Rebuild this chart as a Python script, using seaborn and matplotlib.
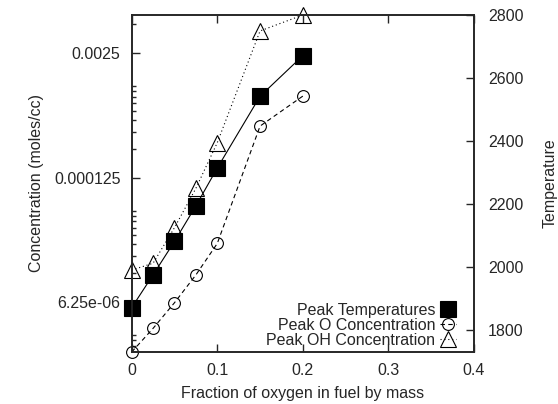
import numpy as np
import matplotlib
matplotlib.use("Agg")
import matplotlib.pyplot as plt
import matplotlib.ticker as mticker
import seaborn as sns

# data
frac = [0, 0.025, 0.05, 0.075, 0.1, 0.15, 0.2]
temp = [1871, 1975, 2081, 2194, 2314, 2542, 2671]
conc_o = [1.88e-6, 3.32e-6, 6.15e-6, 1.20e-5, 2.56e-5, 4.31e-4, 8.87e-4]
conc_oh = [1.35e-5, 1.59e-5, 3.74e-5, 9.64e-5, 2.89e-4, 4.25e-3, 6.24e-3]

sns.set_style("ticks")
plt.rcParams['font.family'] = ['Liberation Sans', 'DejaVu Sans']
plt.rcParams['font.size'] = 11.5

fig = plt.figure(figsize=(5.58, 4.04), dpi=100)
ax = fig.add_axes([0.236, 0.1287, 0.6135, 0.8342])
ax2 = ax.twinx()

line_kw = dict(color='black', linewidth=0.8, markeredgewidth=0.8, clip_on=False)

# concentrations on the left log axis
sns.lineplot(x=frac, y=conc_o, ax=ax, marker='o', markersize=8.5,
             markerfacecolor='none', markeredgecolor='black',
             linestyle=(0, (4, 3)), label='Peak O Concentration', **line_kw)
sns.lineplot(x=frac, y=conc_oh, ax=ax, marker='^', markersize=11,
             markerfacecolor='none', markeredgecolor='black',
             linestyle=(0, (1, 2.5)), label='Peak OH Concentration', **line_kw)

# temperature on the right axis
sns.lineplot(x=frac, y=temp, ax=ax2, marker='s', markersize=11.5,
             markerfacecolor='black', markeredgecolor='black',
             linestyle='-', label='Peak Temperatures', **line_kw)

ax.set_yscale('log', base=20)
ax.set_ylim(min(conc_o), max(conc_oh))
ax.yaxis.set_major_locator(mticker.LogLocator(base=20))
ax.yaxis.set_minor_locator(mticker.LogLocator(base=20, subs=np.arange(2, 10)))
ax.yaxis.set_major_formatter(mticker.FuncFormatter(lambda v, p: '%g' % v))
ax.yaxis.set_minor_formatter(mticker.NullFormatter())

ax.set_xlim(0, 0.4)
ax.set_xticks([0, 0.1, 0.2, 0.3, 0.4])
ax.xaxis.set_major_formatter(mticker.FuncFormatter(lambda v, p: '%g' % v))

ax2.set_ylim(1730, 2800)
ax2.set_yticks([1800, 2000, 2200, 2400, 2600, 2800])

for a in (ax, ax2):
    for s in a.spines.values():
        s.set_linewidth(1.2)
        s.set_visible(True)

ax.tick_params(axis='x', which='both', direction='in', top=True, length=6, width=1, pad=8)
ax.tick_params(axis='y', which='major', direction='in', right=False, length=6, width=1, pad=8)
ax.tick_params(axis='y', which='minor', direction='in', right=False, length=3, width=1)
ax2.tick_params(axis='y', direction='in', length=6, width=1, pad=10)

ax.set_xlabel('Fraction of oxygen in fuel by mass', labelpad=6)
ax.set_ylabel('Concentration (moles/cc)', labelpad=7)
ax2.set_ylabel('Temperature', labelpad=14)

h1, l1 = ax.get_legend_handles_labels()
h2, l2 = ax2.get_legend_handles_labels()
ax.get_legend().remove()
ax2.get_legend().remove()
ax2.legend(h2 + h1, l2 + l1, loc='lower right', bbox_to_anchor=(0.98, -0.02),
           frameon=False, markerfirst=False, handlelength=1.0,
           handletextpad=0.3, labelspacing=0.0, borderpad=0.2)

fig.savefig('out.png', dpi=100)
